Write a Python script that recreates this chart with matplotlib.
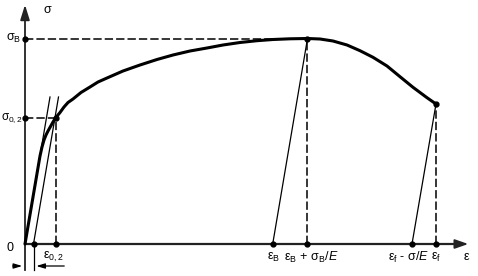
import numpy as np
import matplotlib.pyplot as plt

plt.rcParams['font.family'] = ['Liberation Sans', 'DejaVu Sans']
plt.rcParams['mathtext.fontset'] = 'custom'
plt.rcParams['mathtext.rm'] = 'Liberation Sans'
plt.rcParams['mathtext.it'] = 'Liberation Sans:italic'
plt.rcParams['lines.scale_dashes'] = False

# stress-strain curve (origin at 0,0)
curve_x = [0, 15, 17, 19, 21, 23, 25.5, 28, 30.5, 35, 39, 43, 48, 56, 65, 73, 82, 98, 115, 132, 148, 165,
           182, 198, 215, 232, 248, 265, 282.5, 295, 308, 322, 335, 348, 362, 375, 388, 402, 411]
curve_y = [0, 88, 97, 104, 109, 113, 117.5, 122, 126, 131.5, 137, 141.5, 145, 151.5, 157, 162, 166, 173,
           179, 184.5, 189, 193, 196, 199, 201.5, 203.3, 204.5, 205.2, 205.5, 205, 203, 199, 193.3,
           186.7, 178, 167.3, 156.7, 146.3, 140]

# characteristic values
sig_B = 205.5
sig_02 = 126
sig_f = 140
eps_off = 8.5        # 0,2 % offset
eps_02 = 30.5
eps_B = 247.7
eps_Bt = 282.5
eps_fp = 387
eps_f = 411
line_top = 147       # where the two thin elastic lines end

fig = plt.figure(figsize=(4.78, 2.76), dpi=100)
ax = fig.add_axes([0, 0, 1, 1])
ax.set_xlim(-25, 453)
ax.set_ylim(-32, 244)
ax.axis('off')

axc = '#222222'
# axes
ax.plot([0, 0], [-26, 232], color=axc, lw=1.3)
ax.plot([0, 436], [0, 0], color=axc, lw=1.6)
ax.annotate('', xy=(0, 242), xytext=(0, 228),
            arrowprops=dict(arrowstyle='-|>,head_length=0.9,head_width=0.28', color=axc, lw=1.3))
ax.annotate('', xy=(446, 0), xytext=(432, 0),
            arrowprops=dict(arrowstyle='-|>,head_length=0.8,head_width=0.28', color=axc, lw=1.3))

# curve
ax.plot(curve_x, curve_y, color='black', lw=2.2, solid_capstyle='round', solid_joinstyle='round')

# thin elastic lines
E = line_top / 25.0
ax.plot([0, line_top / E], [0, line_top], color='black', lw=0.9)
ax.plot([eps_off, eps_off + line_top / E], [0, line_top], color='black', lw=0.9)
ax.plot([eps_B, eps_Bt], [0, sig_B], color='black', lw=0.9)
ax.plot([eps_fp, eps_f], [0, sig_f], color='black', lw=0.9)

# dashed helper lines
dk = dict(color='black', lw=1.1, dashes=(6, 2.2))
ax.plot([0, eps_Bt], [sig_B, sig_B], **dk)
ax.plot([0, eps_02], [sig_02, sig_02], **dk)
ax.plot([eps_02, eps_02], [0, sig_02], **dk)
ax.plot([eps_Bt, eps_Bt], [0, sig_B], **dk)
ax.plot([eps_f, eps_f], [0, sig_f], **dk)

# dots
dot_x = [0, 0, eps_off, eps_02, eps_B, eps_Bt, eps_fp, eps_f, eps_Bt, eps_f, eps_02]
dot_y = [sig_B, sig_02, 0, 0, 0, 0, 0, 0, sig_B, sig_f, sig_02]
ax.plot(dot_x, dot_y, 'o', color='black', ms=3.5)

# 0,2 dimension
ax.plot([eps_off, eps_off], [0, -26], color='black', lw=0.9)
ax.annotate('', xy=(0, -22), xytext=(-15, -22),
            arrowprops=dict(arrowstyle='-|>,head_length=0.5,head_width=0.15', color='black', lw=0.9))
ax.annotate('', xy=(eps_off, -22), xytext=(42, -22),
            arrowprops=dict(arrowstyle='-|>,head_length=0.5,head_width=0.15', color='black', lw=0.9))

fs = 9
ax.text(22, 234, 'σ', fontsize=fs, ha='center', va='center')
ax.text(-19, sig_B, r'$\mathrm{σ_B}$', fontsize=fs, ha='left', va='center')
ax.text(-24.5, sig_02, r'$\mathrm{σ_{0,2}}$', fontsize=8.5, ha='left', va='center')
ax.text(-15, -4, '0', fontsize=fs, ha='center', va='center')
ax.text(28, -13, r'$\mathrm{ε_{0,2}}$', fontsize=fs, ha='center', va='center')

lab_y = -13
ax.text(249, lab_y, r'$\mathrm{ε_B}$', fontsize=fs, ha='center', va='center')
ax.text(286, lab_y, r'$\mathrm{ε_B\,+\,σ_B/}E$', fontsize=fs, ha='center', va='center')
ax.text(384, lab_y, r'$\mathrm{ε_f\ ‐\ σ/}E$', fontsize=fs, ha='center', va='center')
ax.text(411.5, lab_y, r'$\mathrm{ε_f}$', fontsize=fs, ha='center', va='center')
ax.text(441, lab_y, 'ε', fontsize=fs, ha='center', va='center')

fig.savefig('out.png', dpi=100)
